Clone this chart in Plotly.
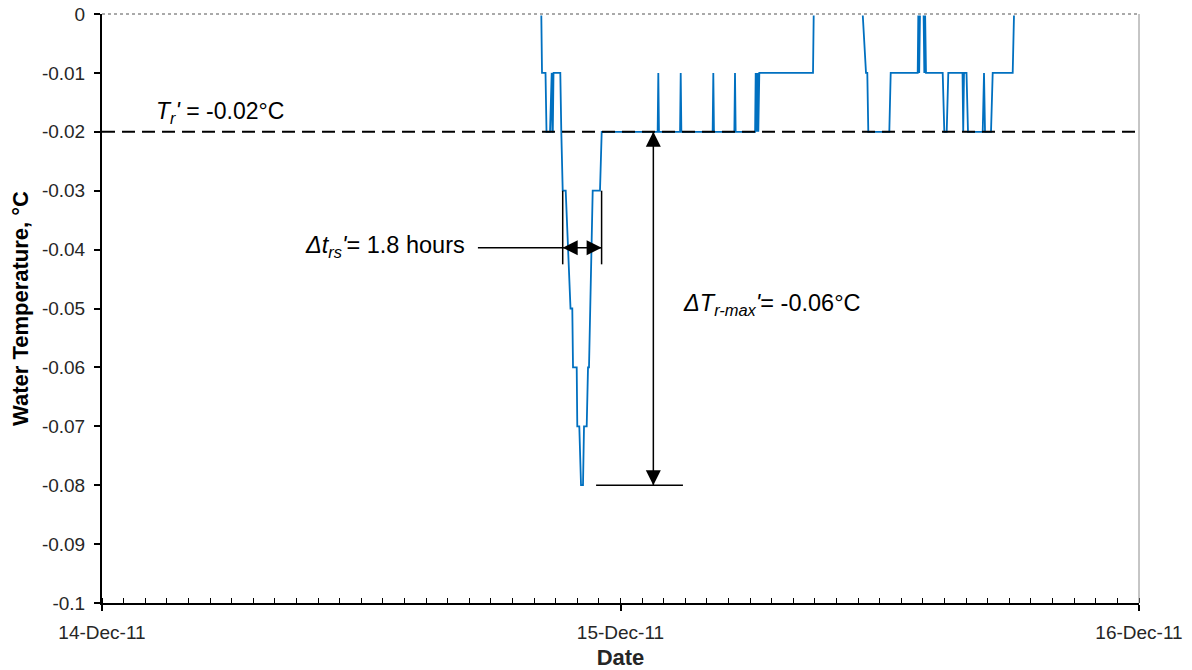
import pandas as pd
import plotly.graph_objects as go

# ---- data (hours after 14-Dec-2011 00:00, water temperature °C)
hours = [20.334, 20.367, 20.529, 20.575, 20.737, 20.783, 20.816, 20.843, 20.867, 20.899,
         21.214, 21.260, 21.325, 21.464, 21.570, 21.686, 21.769, 21.802, 21.973, 22.000,
         22.093, 22.172, 22.264, 22.311, 22.436, 22.496, 22.542, 22.588, 22.649, 22.713,
         23.051, 23.130,
         25.720, 25.750, 25.780,
         26.757, 26.787, 26.817,
         28.266, 28.296, 28.326,
         29.270, 29.300, 29.330,
         30.230, 30.258, 30.295, 30.342, 30.379, 30.425,
         32.911, 32.943, 35.211, 35.364, 35.424, 35.470, 36.442, 36.507,
         37.757, 37.785, 37.826, 37.863, 38.030, 38.063, 38.100, 38.141,
         38.914, 38.988, 39.099, 39.173, 39.831, 39.863, 39.900, 40.016, 40.085,
         40.766, 40.826, 40.872, 41.150, 41.228, 42.154, 42.215]
temps = [0.00, -0.01, -0.01, -0.02, -0.02, -0.01, -0.01, -0.02, -0.02, -0.01,
         -0.01, -0.02, -0.03, -0.03, -0.04, -0.05, -0.05, -0.06, -0.06, -0.07,
         -0.07, -0.08, -0.08, -0.07, -0.07, -0.06, -0.06, -0.05, -0.04, -0.03,
         -0.03, -0.02,
         -0.02, -0.01, -0.02,
         -0.02, -0.01, -0.02,
         -0.02, -0.01, -0.02,
         -0.02, -0.01, -0.02,
         -0.02, -0.01, -0.02, -0.01, -0.02, -0.01,
         -0.01, 0.00, 0.00, -0.01, -0.01, -0.02, -0.02, -0.01,
         -0.01, 0.00, -0.01, 0.00, 0.00, -0.01, 0.00, -0.01,
         -0.01, -0.02, -0.02, -0.01, -0.01, -0.02, -0.01, -0.01, -0.02,
         -0.02, -0.01, -0.02, -0.02, -0.01, -0.01, 0.00]

t_ref = -0.02            # Tr'
t_min = -0.08            # minimum temperature
dt_start_h = 21.325      # start of the 1.8 h interval
dt_end_h = 23.125        # end of the 1.8 h interval
dT_arrow_h = 25.52       # position of the vertical arrow

y_tick_vals = [0, -0.01, -0.02, -0.03, -0.04, -0.05, -0.06, -0.07, -0.08, -0.09, -0.1]
y_tick_text = ["0", "-0.01", "-0.02", "-0.03", "-0.04", "-0.05", "-0.06", "-0.07", "-0.08", "-0.09", "-0.1"]
x_tick_dates = ["2011-12-14", "2011-12-15", "2011-12-16"]
x_tick_text = ["14-Dec-11", "15-Dec-11", "16-Dec-11"]

base = pd.Timestamp("2011-12-14")
def at(h):
    return base + pd.Timedelta(hours=h)

times = [at(h) for h in hours]

FONT = "Liberation Sans, Arial, sans-serif"
TXT = "#262626"
fig = go.Figure()
fig.add_trace(go.Scatter(x=times, y=temps, mode="lines",
                         line=dict(color="#0070C0", width=1.8), showlegend=False,
                         hoverinfo="skip"))

y_arrow = -0.0397
shapes = []
# reference dashed line Tr'
shapes.append(dict(type="line", xref="paper", x0=0, x1=1, yref="y", y0=t_ref, y1=t_ref,
                   line=dict(color="black", width=2, dash="13px,7px"), layer="above"))
# top border: mask the zero line, then dotted gray border
shapes.append(dict(type="line", xref="paper", x0=0, x1=1, yref="paper", y0=1, y1=1,
                   line=dict(color="white", width=3), layer="above"))
shapes.append(dict(type="line", xref="paper", x0=0, x1=1, yref="paper", y0=1, y1=1,
                   line=dict(color="#555555", width=1, dash="dot"), layer="above"))
# right border
shapes.append(dict(type="line", xref="paper", x0=1, x1=1, yref="paper", y0=0, y1=1,
                   line=dict(color="#8c8c8c", width=1), layer="above"))
# interval bracket bars
for h in (dt_start_h, dt_end_h):
    shapes.append(dict(type="line", xref="x", x0=at(h), x1=at(h), yref="y", y0=-0.03, y1=-0.0425,
                       line=dict(color="black", width=1.5), layer="above"))
# leader line from the Δt text and the interval line
shapes.append(dict(type="line", xref="x", x0=at(17.40), x1=at(dt_end_h), yref="y", y0=y_arrow, y1=y_arrow,
                   line=dict(color="black", width=1.5), layer="above"))
# vertical ΔT line
shapes.append(dict(type="line", xref="x", x0=at(dT_arrow_h), x1=at(dT_arrow_h), yref="y", y0=t_ref, y1=t_min,
                   line=dict(color="black", width=1.5), layer="above"))
# horizontal line at the minimum
shapes.append(dict(type="line", xref="x", x0=at(22.87), x1=at(26.89), yref="y", y0=t_min, y1=t_min,
                   line=dict(color="black", width=1.5), layer="above"))

annotations = []
def head(x, y, ax, ay):
    return dict(x=x, y=y, ax=ax, ay=ay, xref="x", yref="y", axref="pixel", ayref="pixel",
                showarrow=True, arrowhead=2, arrowsize=2.0, arrowwidth=1.5,
                arrowcolor="black", text="")
annotations.append(head(at(dt_start_h), y_arrow, 16, 0))
annotations.append(head(at(dt_end_h), y_arrow, -16, 0))
annotations.append(head(at(dT_arrow_h), t_ref, 0, 16))
annotations.append(head(at(dT_arrow_h), t_min, 0, -16))

annotations.append(dict(x=at(2.41), y=-0.0168, xref="x", yref="y", xanchor="left", yanchor="middle",
                        showarrow=False, text="<i>T<sub>r</sub>'</i> = -0.02°C",
                        font=dict(family=FONT, size=23, color="black")))
annotations.append(dict(x=at(9.30), y=-0.0394, xref="x", yref="y", xanchor="left", yanchor="middle",
                        showarrow=False, text="<i>Δt<sub>rs</sub>'</i>= 1.8 hours",
                        font=dict(family=FONT, size=23.5, color="black")))
annotations.append(dict(x=at(26.80), y=-0.0494, xref="x", yref="y", xanchor="left", yanchor="middle",
                        showarrow=False, text="<i>ΔT<sub>r-max</sub>'</i>= -0.06°C",
                        font=dict(family=FONT, size=23.5, color="black")))

fig.update_layout(
    width=1192, height=670,
    margin=dict(l=102, r=53, t=14, b=67),
    paper_bgcolor="white", plot_bgcolor="white",
    font=dict(family=FONT, size=19, color=TXT),
    shapes=shapes, annotations=annotations,
    xaxis=dict(type="date", range=[x_tick_dates[0], x_tick_dates[-1]], automargin=False,
               tickmode="array", tickvals=x_tick_dates, ticktext=x_tick_text,
               tickfont=dict(family=FONT, size=19, color=TXT),
               ticks="outside", ticklen=6, tickwidth=1.5, tickcolor="black",
               minor=dict(dtick=3600000, tick0=x_tick_dates[0], ticks="inside", ticklen=5,
                          tickwidth=1.3, tickcolor="black", showgrid=False),
               showline=True, linecolor="black", linewidth=2, showgrid=False, zeroline=False,
               ticklabelstandoff=5,
               title=dict(text="<b>Date</b>", font=dict(family=FONT, size=22, color=TXT),
                          standoff=8)),
    yaxis=dict(range=[-0.1, 0], automargin=False, tickmode="array", tickvals=y_tick_vals,
               ticktext=y_tick_text, tickfont=dict(family=FONT, size=19, color=TXT),
               ticks="outside", ticklen=6, tickwidth=1.5, tickcolor="black",
               showline=True, linecolor="black", linewidth=2, showgrid=False, zeroline=False,
               ticklabelstandoff=5,
               title=dict(text="<b>Water Temperature, °C</b>",
                          font=dict(family=FONT, size=22, color="black"), standoff=7)),
)

fig.write_html("out.html")
